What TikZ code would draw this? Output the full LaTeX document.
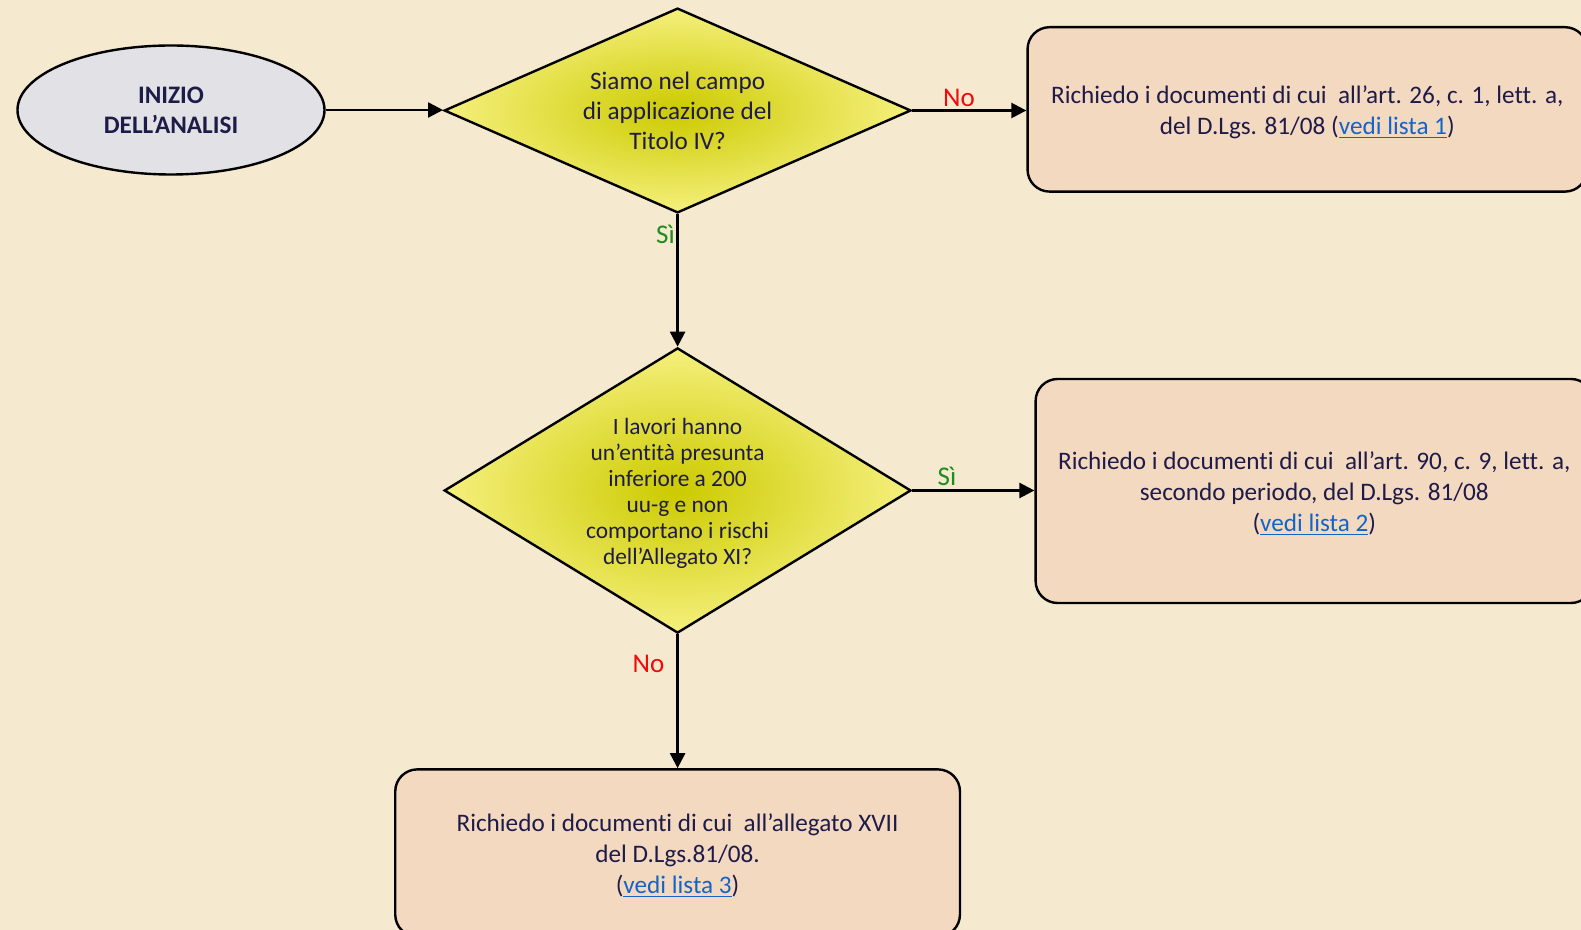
\documentclass[tikz,border=0pt]{standalone}
\usepackage{fontspec}
\setmainfont{Carlito}[Ligatures={NoCommon,NoContextual},RawFeature={-liga;-clig;-calt;-dlig}]
\usetikzlibrary{shapes.geometric,arrows.meta}
\definecolor{paper}{RGB}{245,233,208}
\definecolor{ink}{RGB}{30,27,72}
\definecolor{stone}{RGB}{226,226,230}
\definecolor{yellowcore}{RGB}{204,202,0}
\definecolor{yellowrim}{RGB}{245,240,125}
\definecolor{peach}{RGB}{244,217,193}
\definecolor{linkblue}{RGB}{20,100,200}
\definecolor{yesgreen}{RGB}{30,140,30}
\definecolor{nored}{RGB}{240,10,10}
\newcommand{\lnk}[1]{{\color{linkblue}\underline{#1}}}
% centred text block, lowered without changing its declared size
\newcommand{\dropblock}[3]{\raisebox{-#1}[\height][\depth]{\parbox{#2}{\centering #3}}}
\begin{document}
\begin{tikzpicture}[x=0.5pt,y=-0.5pt,
  every node/.style={text=ink},
  startnode/.style={ellipse, draw, line width=1.2pt, fill=stone,
    minimum width=153.5pt, minimum height=64.5pt, inner sep=0pt,
    align=center, font=\bfseries\fontsize{12.6}{15}\selectfont},
  question/.style={diamond, draw, line width=1.2pt, inner color=yellowcore,
    outer color=yellowrim, inner sep=0pt, align=center},
  docbox/.style={rectangle, rounded corners=11pt, draw, line width=1.2pt,
    fill=peach, inner sep=0pt, align=center,
    font=\fontsize{12.6}{15.5}\selectfont},
  flow/.style={line width=1.2pt, -{Triangle[length=7.5pt,width=7.5pt]}},
  yeslabel/.style={text=yesgreen, font=\fontsize{13.5}{16}\selectfont},
  nolabel/.style={text=nored, font=\fontsize{13.5}{16}\selectfont}
]
% page and background
\useasboundingbox (0,0) rectangle (1581,930);
\fill[paper] (0,0) rectangle (1581,930);

% start
\node[startnode] (start) at (171,110) {INIZIO\\DELL’ANALISI};

% decisions
\node[question, aspect=2.28, minimum width=233.4pt, minimum height=102.4pt,
  font=\fontsize{12.6}{15}\selectfont] (d1) at (677.6,110.5)
  {Siamo nel campo\\di applicazione del\\Titolo IV?};
\node[question, aspect=1.64, minimum width=233.4pt, minimum height=142.6pt,
  font=\fontsize{11.7}{13}\selectfont] (d2) at (677.6,490.5)
  {\dropblock{1.5pt}{100pt}{I lavori hanno\\un’entità presunta\\inferiore a 200\\uu-g e non\\comportano i rischi\\dell’Allegato XI?}};

% outcomes
\node[docbox, minimum width=279.75pt, minimum height=82.2pt] (b1) at (1307.3,109.4)
  {\dropblock{1.5pt}{279pt}{Richiedo i documenti di cui~ all’art. 26, c. 1, lett. a,\\del D.Lgs. 81/08 (\lnk{vedi lista 1})}};
\node[docbox, minimum width=278.7pt, minimum height=112pt] (b2) at (1314.3,491)
  {\dropblock{1.5pt}{278pt}{Richiedo i documenti di cui~ all’art. 90, c. 9, lett. a,\\secondo periodo, del D.Lgs. 81/08\\(\lnk{vedi lista 2})}};
\node[docbox, minimum width=282.35pt, minimum height=83.6pt] (b3) at (677.6,853)
  {\dropblock{1.5pt}{282pt}{Richiedo i documenti di cui~ all’allegato XVII\\del D.Lgs.81/08.\\(\lnk{vedi lista 3})}};

% connectors
\draw[flow] (start.east) -- (start.east -| d1.west);
\draw[flow] (d1.east) -- (d1.east -| b1.west);
\draw[flow] (d1.south) -- (d2.north);
\draw[flow] (d2.east) -- (d2.east -| b2.west);
\draw[flow] (d2.south) -- (b3.north);

% branch labels
\node[nolabel] (no1) at (959,98) {No};
\node[yeslabel] (si1) at (665.5,234) {Sì};
\node[yeslabel] (si2) at (947,476) {Sì};
\node[nolabel] (no2) at (648.5,663.5) {No};
\end{tikzpicture}
\end{document}
